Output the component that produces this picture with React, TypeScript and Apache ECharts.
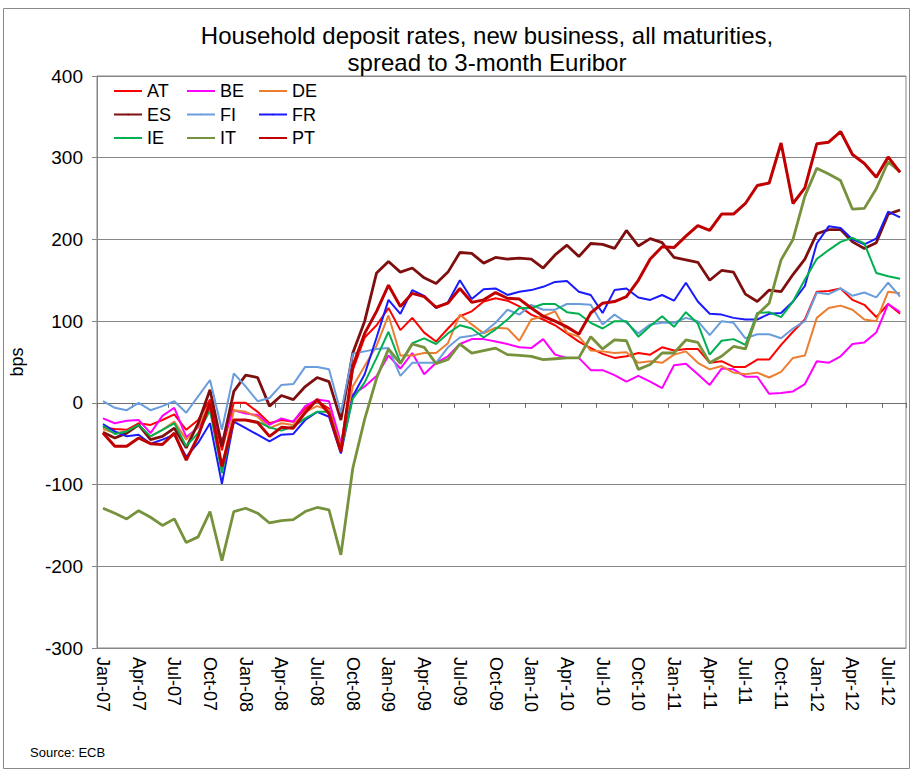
import React, { useEffect, useRef } from "react";
import * as echarts from "echarts";

const categories = [
  "Jan-07", "Feb-07", "Mar-07", "Apr-07", "May-07", "Jun-07", "Jul-07", "Aug-07", "Sep-07", "Oct-07", "Nov-07", "Dec-07",
  "Jan-08", "Feb-08", "Mar-08", "Apr-08", "May-08", "Jun-08", "Jul-08", "Aug-08", "Sep-08", "Oct-08", "Nov-08", "Dec-08",
  "Jan-09", "Feb-09", "Mar-09", "Apr-09", "May-09", "Jun-09", "Jul-09", "Aug-09", "Sep-09", "Oct-09", "Nov-09", "Dec-09",
  "Jan-10", "Feb-10", "Mar-10", "Apr-10", "May-10", "Jun-10", "Jul-10", "Aug-10", "Sep-10", "Oct-10", "Nov-10", "Dec-10",
  "Jan-11", "Feb-11", "Mar-11", "Apr-11", "May-11", "Jun-11", "Jul-11", "Aug-11", "Sep-11", "Oct-11", "Nov-11", "Dec-11",
  "Jan-12", "Feb-12", "Mar-12", "Apr-12", "May-12", "Jun-12", "Jul-12", "Aug-12",
];

const AT = [
  -30, -32, -33, -25, -27, -21, -14, -33, -21, 4, -58, 0,
  0, -11, -25, -21, -23, -7, 2, -7, -53, 40, 80, 95,
  116, 89, 104, 86, 75, 91, 106, 112, 124, 128, 125, 118,
  108, 102, 95, 85, 75, 67, 60, 55, 57, 61, 59, 68,
  64, 66, 66, 49, 51, 44, 44, 53, 53, 71, 87, 102,
  136, 137, 140, 126, 120, 105, 121, 109,
];
const BE = [
  -19, -25, -22, -21, -37, -16, -6, -42, -30, -6, -47, -9,
  -13, -15, -27, -19, -23, -4, 4, 2, -49, 10, 20, 33,
  58, 42, 61, 35, 49, 57, 72, 78, 78, 75, 72, 68,
  67, 78, 59, 55, 55, 40, 40, 34, 26, 33, 26, 18,
  46, 48, 35, 22, 42, 41, 32, 32, 11, 12, 14, 23,
  51, 49, 57, 72, 74, 86, 121, 111,
];
const DE = [
  -32, -37, -35, -27, -41, -33, -23, -45, -29, 0, -80, -9,
  -11, -17, -31, -25, -27, -11, -4, -9, -53, 20, 45, 70,
  107, 58, 58, 61, 61, 73, 108, 96, 85, 92, 91, 76,
  102, 106, 112, 86, 81, 64, 63, 61, 62, 49, 51, 49,
  59, 63, 49, 41, 45, 37, 35, 37, 31, 38, 55, 58,
  104, 116, 119, 114, 102, 100, 136, 134,
];
const ES = [
  -36, -43, -37, -27, -45, -41, -31, -55, -25, 16, -53, 14,
  34, 31, -4, 9, 4, 20, 31, 26, -21, 61, 100, 159,
  173, 160, 165, 153, 146, 160, 184, 183, 171, 178, 176, 177,
  176, 165, 181, 193, 179, 195, 194, 189, 211, 192, 201, 196,
  178, 175, 172, 150, 162, 160, 133, 124, 138, 136, 157, 176,
  207, 212, 212, 197, 189, 196, 231, 236,
];
const FI = [
  2, -6, -9, 0, -9, -4, 2, -12, 8, 28, -33, 36,
  20, 2, 6, 22, 23, 44, 44, 41, -12, 60, 63, 66,
  67, 33, 49, 49, 49, 68, 80, 82, 86, 98, 114, 108,
  120, 114, 114, 121, 121, 120, 96, 108, 98, 85, 96, 98,
  98, 104, 100, 83, 100, 98, 79, 84, 84, 79, 91, 100,
  135, 133, 140, 131, 135, 129, 147, 130,
];
const FR = [
  -26, -35, -41, -39, -50, -45, -39, -66, -49, -25, -99, -23,
  -31, -39, -47, -39, -38, -21, -11, -17, -62, 8, 35, 80,
  126, 109, 138, 131, 116, 123, 150, 127, 139, 140, 132, 136,
  138, 142, 148, 149, 136, 132, 110, 138, 140, 129, 126, 132,
  125, 147, 124, 109, 108, 104, 102, 102, 109, 110, 124, 143,
  195, 216, 214, 200, 194, 201, 234, 227,
];
const IE = [
  -28, -38, -35, -27, -41, -33, -25, -53, -37, -9, -86, -21,
  -21, -23, -30, -34, -29, -19, -11, -11, -58, 5, 25, 55,
  87, 49, 73, 79, 72, 85, 95, 91, 80, 90, 102, 116,
  116, 121, 121, 111, 109, 98, 91, 100, 100, 81, 94, 106,
  93, 111, 97, 59, 76, 78, 71, 110, 111, 105, 124, 151,
  176, 187, 197, 202, 195, 159, 155, 152,
];
const IT = [
  -129, -135, -142, -132, -140, -150, -142, -171, -164, -133, -193, -133,
  -129, -135, -147, -144, -143, -133, -128, -131, -186, -80, -20, 30,
  66, 48, 72, 68, 48, 53, 72, 61, 64, 67, 59, 58,
  57, 53, 54, 55, 55, 81, 66, 77, 76, 41, 47, 61,
  61, 77, 74, 49, 57, 69, 66, 108, 122, 175, 200, 253,
  287, 280, 272, 237, 238, 262, 295, 283,
];
const PT = [
  -37, -53, -53, -43, -50, -51, -37, -70, -41, 0, -78, -21,
  -21, -24, -41, -30, -31, -12, 4, -13, -60, 45, 85, 112,
  144, 118, 134, 130, 117, 122, 140, 123, 126, 135, 128, 127,
  116, 106, 100, 93, 84, 110, 122, 124, 130, 150, 176, 191,
  190, 204, 217, 211, 231, 231, 244, 266, 269, 318, 244, 263,
  317, 319, 332, 304, 293, 276, 301, 282,
];

const yTicks = [-300, -200, -100, 0, 100, 200, 300, 400];

const titleLines = ["Household deposit rates, new business, all maturities,", "spread to 3-month Euribor"];
const sourceText = "Source: ECB";

const FONT = "'Liberation Sans', Arial, Helvetica, sans-serif";

export default function App() {
  const ref = useRef<HTMLDivElement>(null);
  useEffect(() => {
    const chart = echarts.init(ref.current as HTMLDivElement, null, { renderer: "svg" });
    const mk = (name: string, data: number[], color: string, width: number) => ({
      name,
      type: "line",
      data,
      symbol: "none",
      showSymbol: false,
      xAxisIndex: 0,
      yAxisIndex: 0,
      lineStyle: { color, width },
      itemStyle: { color },
      emphasis: { disabled: true },
    });
    const legendBase = {
      orient: "vertical",
      top: 82,
      padding: 0,
      itemWidth: 28,
      itemHeight: 2,
      itemGap: 5.5,
      selectedMode: false,
      textStyle: { fontSize: 18, lineHeight: 18, fontFamily: FONT, color: "#000" },
    };
    chart.setOption({
      animation: false,
      backgroundColor: "#ffffff",
      grid: {
        left: 91.5,
        right: 8,
        top: 76,
        bottom: 125,
        show: true,
        borderColor: "#868686",
        borderWidth: 1,
        containLabel: false,
      },
      legend: [
        { ...legendBase, left: 113, data: ["AT", "ES", "IE"] },
        { ...legendBase, left: 186, data: ["BE", "FI", "IT"] },
        { ...legendBase, left: 258, data: ["DE", "FR", "PT"] },
      ],
      xAxis: [
        {
          type: "category",
          data: categories,
          boundaryGap: true,
          position: "bottom",
          axisLine: { show: true, onZero: false, lineStyle: { color: "#868686", width: 1 } },
          axisTick: { show: false },
          axisLabel: {
            interval: 2,
            rotate: -90,
            margin: 9,
            fontSize: 18,
            fontFamily: FONT,
            color: "#000",
          },
          splitLine: { show: false },
        },
        {
          type: "category",
          data: categories,
          boundaryGap: true,
          position: "top",
          axisLine: { show: true, onZero: true, lineStyle: { color: "#6e6e6e", width: 1 } },
          axisTick: { show: true, inside: true, interval: 2, length: 5, lineStyle: { color: "#6e6e6e" } },
          axisLabel: { show: false },
          splitLine: { show: false },
        },
      ],
      yAxis: {
        type: "value",
        min: yTicks[0],
        max: yTicks[yTicks.length - 1],
        interval: 100,
        name: "bps",
        nameLocation: "middle",
        nameGap: 71,
        nameTextStyle: { fontSize: 18, fontFamily: FONT, color: "#000" },
        axisLine: { show: true, lineStyle: { color: "#868686" } },
        axisTick: { show: true, length: 5, lineStyle: { color: "#868686" } },
        axisLabel: { fontSize: 19, fontFamily: FONT, color: "#000", margin: 14 },
        splitLine: { show: true, lineStyle: { color: "#868686", width: 1 } },
      },
      series: [
        mk("AT", AT, "#ff0000", 2),
        mk("BE", BE, "#ff00ff", 2),
        mk("DE", DE, "#ed7d31", 2),
        mk("ES", ES, "#7f0f0f", 2.8),
        mk("FI", FI, "#6a9ddb", 2),
        mk("FR", FR, "#1a1aff", 2),
        mk("IE", IE, "#00b050", 2),
        mk("IT", IT, "#76923c", 2.8),
        mk("PT", PT, "#c00000", 3),
      ],
      graphic: [
        {
          type: "rect",
          silent: true,
          shape: { x: 3.5, y: 8.5, width: 906, height: 760 },
          style: { fill: "none", stroke: "#8a8a8a", lineWidth: 1 },
        },
        {
          type: "text",
          x: 487,
          y: 35,
          style: { text: titleLines[0], fontSize: 24, fontFamily: FONT, fill: "#000", align: "center", verticalAlign: "middle" },
        },
        {
          type: "text",
          x: 487,
          y: 62,
          style: { text: titleLines[1], fontSize: 24, fontFamily: FONT, fill: "#000", align: "center", verticalAlign: "middle" },
        },
        {
          type: "text",
          x: 30,
          y: 752,
          style: { text: sourceText, fontSize: 13, fontFamily: FONT, fill: "#000", align: "left", verticalAlign: "middle" },
        },
      ],
    });
    return () => chart.dispose();
  }, []);
  return (
    <div
      ref={ref}
      style={{ position: "fixed", left: 0, top: 0, width: 914, height: 773, background: "#fff" }}
    />
  );
}
